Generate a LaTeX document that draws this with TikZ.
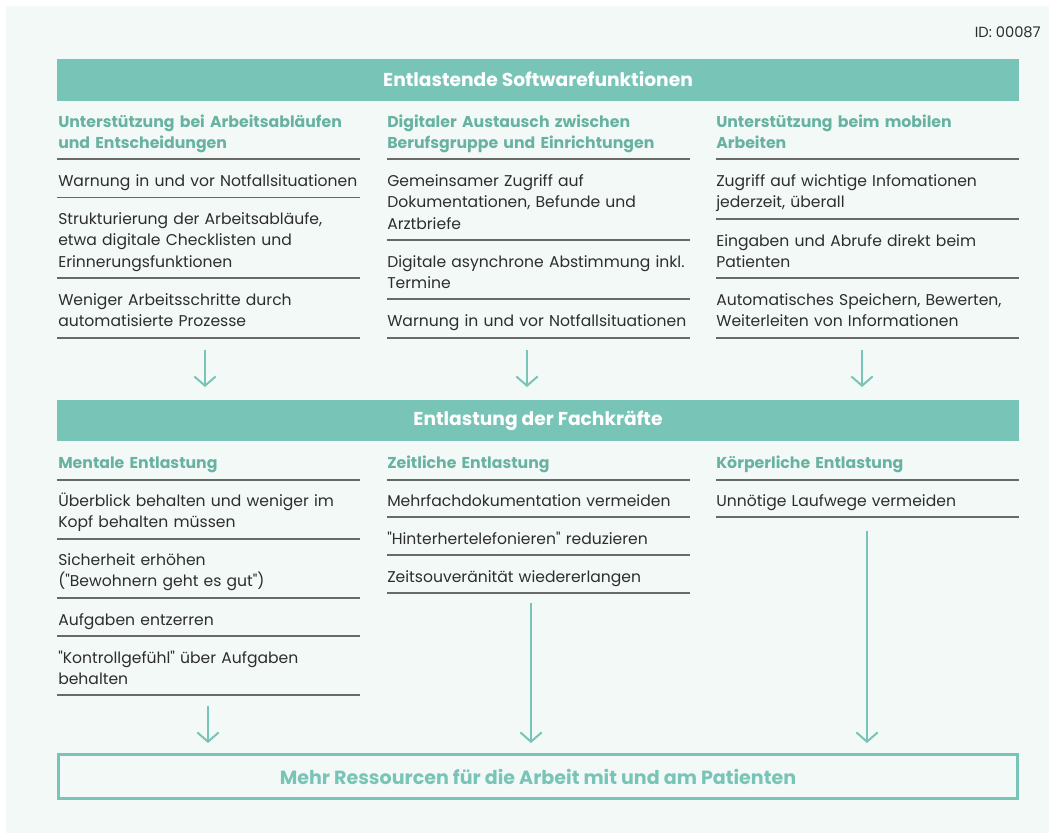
\documentclass[tikz,border=0pt]{standalone}
\usepackage{fontspec}
\setmainfont{Poppins}[Ligatures=TeXOff]
\usepackage{tikz}
\usetikzlibrary{arrows.meta, positioning, calc}
\definecolor{mintbg}{RGB}{243,249,247}
\definecolor{tealbar}{RGB}{120,197,184}
\definecolor{tealhead}{RGB}{104,178,162}
\definecolor{bodytext}{RGB}{45,45,45}
\definecolor{rulegray}{RGB}{105,105,105}

\begin{document}
\begin{tikzpicture}[
    x=0.75pt, y=-0.75pt,
    bar/.style={fill=tealbar, minimum width=721.5pt, minimum height=31.5pt, inner sep=0pt, text=white, font=\fontsize{14}{16}\selectfont\bfseries},
    colhead/.style={anchor=base west, inner sep=0pt, text width=230pt, align=left, text=tealhead, font=\fontsize{11.8}{16}\selectfont\bfseries},
    item/.style={anchor=base west, inner sep=0pt, text width=230pt, align=left, text=bodytext, font=\fontsize{11.7}{16}\selectfont},
    rule/.style={draw=rulegray, line width=0.8pt},
    arrow/.style={-{Straight Barb[length=7pt, width=16pt]}, draw=tealbar, line width=1.5pt}
]
    \useasboundingbox (0,0) rectangle (1055,839);
    \fill[white] (0,0) rectangle (1055,839);
    \fill[mintbg] (6,6) rectangle (1049,833);

    \node[anchor=base east, inner sep=0pt, text=bodytext, font=\fontsize{11}{13}\selectfont] (id) at (1041,37) {ID: 00087};

    % Softwarefunktionen
    \node[bar] (soft) at (538,79.5) {Entlastende Softwarefunktionen};

    \node[colhead] (h1) at (58,127.5) {Unterstützung bei Arbeitsabläufen\\und Entscheidungen};
    \node[colhead] (h2) at (387,127.5) {Digitaler Austausch zwischen\\Berufsgruppe und Einrichtungen};
    \node[colhead] (h3) at (716,127.5) {Unterstützung beim mobilen\\Arbeiten};

    \node[item] (a1) at (58,186.5) {Warnung in und vor Notfallsituationen};
    \node[item] (a2) at (58,224.5) {Strukturierung der Arbeitsabläufe,\\etwa digitale Checklisten und\\Erinnerungsfunktionen};
    \node[item] (a3) at (58,305.5) {Weniger Arbeitsschritte durch\\automatisierte Prozesse};

    \node[item] (b1) at (387,186.5) {Gemeinsamer Zugriff auf\\Dokumentationen, Befunde und\\Arztbriefe};
    \node[item] (b2) at (387,267.5) {Digitale asynchrone Abstimmung inkl.\\Termine};
    \node[item] (b3) at (387,326.5) {Warnung in und vor Notfallsituationen};

    \node[item] (c1) at (716,186.5) {Zugriff auf wichtige Infomationen\\jederzeit, überall};
    \node[item] (c2) at (716,246.5) {Eingaben und Abrufe direkt beim\\Patienten};
    \node[item] (c3) at (716,305.5) {Automatisches Speichern, Bewerten,\\Weiterleiten von Informationen};

    \foreach \x/\y in {57/159, 57/197.5, 57/278, 57/338,
                       387/159, 387/240, 387/299, 387/338,
                       716/159, 716/219, 716/278, 716/338}
        \draw[rule] (\x,\y) -- ++(303,0);

    % Entlastung
    \node[bar, minimum height=30.75pt] (fach) at (538,420.5) {Entlastung der Fachkräfte};

    \coordinate (s1) at (205,350);
    \coordinate (s2) at (527,350);
    \coordinate (s3) at (862,350);
    \foreach \s in {s1,s2,s3}
        \draw[arrow, shorten >=9.5pt] (\s) -- (\s |- fach.north);

    \node[colhead] (k1) at (58,468.5) {Mentale Entlastung};
    \node[colhead] (k2) at (387,468.5) {Zeitliche Entlastung};
    \node[colhead] (k3) at (716,468.5) {Körperliche Entlastung};

    \node[item] (m1) at (58,506.5) {Überblick behalten und weniger im\\Kopf behalten müssen};
    \node[item] (m2) at (58,565.5) {Sicherheit erhöhen\\("Bewohnern geht es gut")};
    \node[item] (m3) at (58,625.5) {Aufgaben entzerren};
    \node[item] (m4) at (58,663.5) {"Kontrollgefühl" über Aufgaben\\behalten};

    \node[item] (z1) at (387,506.5) {Mehrfachdokumentation vermeiden};
    \node[item] (z2) at (387,544.5) {"Hinterhertelefonieren" reduzieren};
    \node[item] (z3) at (387,582.5) {Zeitsouveränität wiedererlangen};

    \node[item] (p1) at (716,506.5) {Unnötige Laufwege vermeiden};

    \foreach \x/\y in {57/480, 57/539, 57/598, 57/636, 57/695,
                       387/480, 387/517, 387/555, 387/593,
                       716/480, 716/517}
        \draw[rule] (\x,\y) -- ++(303,0);

    % Ergebnis
    \node[draw=tealbar, line width=2.2pt, minimum width=719.25pt, minimum height=33pt, inner sep=0pt, text=tealbar, font=\fontsize{14.3}{16}\selectfont\bfseries] (res) at (538,776.5) {Mehr Ressourcen für die Arbeit mit und am Patienten};

    \coordinate (t1) at (208,706);
    \coordinate (t2) at (531,603);
    \coordinate (t3) at (867,531);
    \foreach \t in {t1,t2,t3}
        \draw[arrow, shorten >=7.5pt] (\t) -- (\t |- res.north);
\end{tikzpicture}
\end{document}
